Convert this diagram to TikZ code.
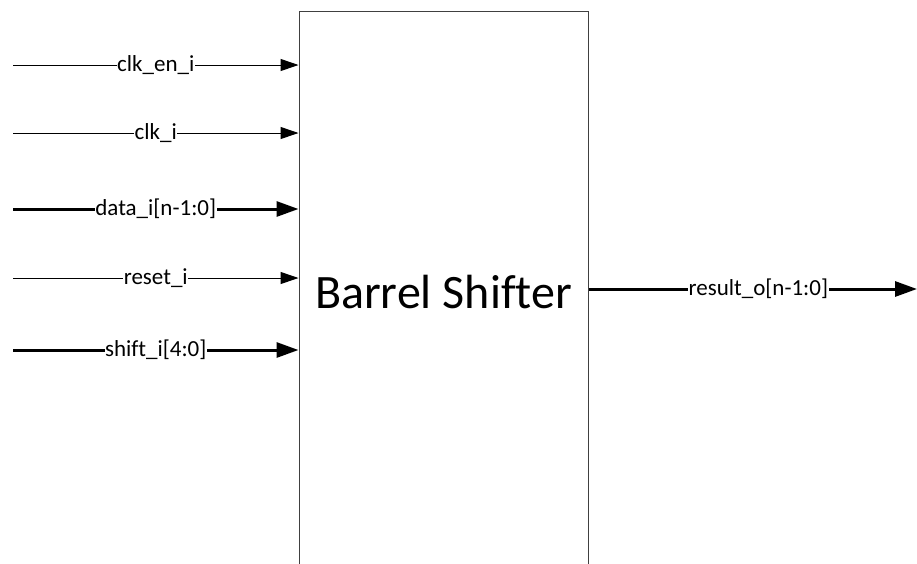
\documentclass[tikz,border=0pt]{standalone}
\usepackage{fontspec}
\setmainfont{Carlito}[Ligatures=NoCommon]
\usetikzlibrary{arrows.meta}
\begin{document}
\begin{tikzpicture}[x=1pt,y=-1pt,
  thinsig/.style={draw=black,line width=1pt,-{Triangle[length=18pt,width=12pt]}},
  thicksig/.style={draw=black,line width=3pt,-{Triangle[length=22pt,width=15pt]}},
  lbl/.style={fill=white,inner sep=0.5pt,font=\fontsize{23}{27}\selectfont},
  blockbox/.style={draw=black!75,line width=1pt,minimum width=289pt,minimum height=562pt,inner sep=0pt,font=\fontsize{48}{56}\selectfont}]
\useasboundingbox (0,0) rectangle (917,563);
\clip (0,0) rectangle (917,563);
\node[blockbox] (box) at (443.5,292) {Barrel Shifter};
\coordinate (a1) at (13,65);
\coordinate (a2) at (13,133);
\coordinate (a3) at (13,209);
\coordinate (a4) at (13,278);
\coordinate (a5) at (13,350);
\coordinate (o1) at (917,289);
\draw[thinsig] (a1) -- (box.west |- a1) node[lbl,midway] {clk\_en\_i};
\draw[thinsig] (a2) -- (box.west |- a2) node[lbl,midway] {clk\_i};
\draw[thicksig] (a3) -- (box.west |- a3) node[lbl,midway] {data\_i[n-1:0]};
\draw[thinsig] (a4) -- (box.west |- a4) node[lbl,midway] {reset\_i};
\draw[thicksig] (a5) -- (box.west |- a5) node[lbl,midway] {shift\_i[4:0]};
\draw[thicksig] (box.east |- o1) -- (o1) node[lbl,pos=0.517] {result\_o[n-1:0]};
\end{tikzpicture}
\end{document}
